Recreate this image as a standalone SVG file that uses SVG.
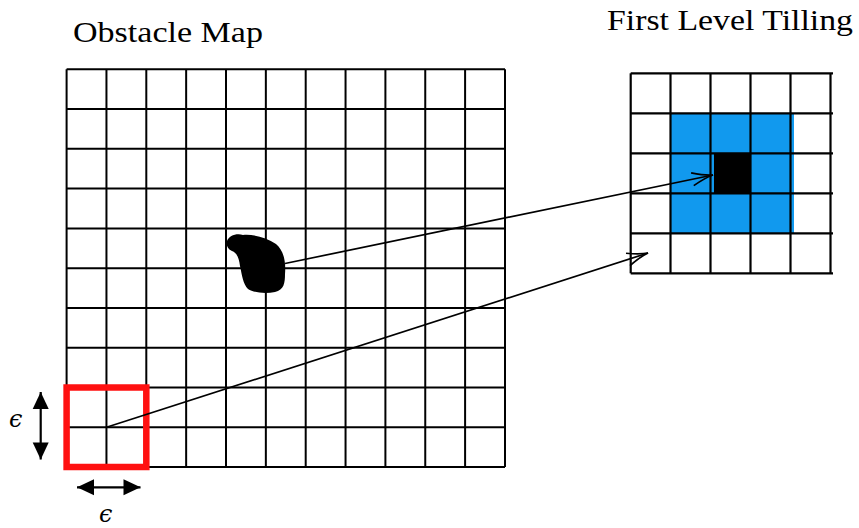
<svg xmlns="http://www.w3.org/2000/svg" width="859" height="528" viewBox="0 0 859 528">
<style>
.title{font-family:"Liberation Serif","DejaVu Serif",serif;font-size:30px;fill:#000}
.eps{font-family:"DejaVu Serif","Liberation Serif",serif;font-style:italic;font-size:24px;fill:#000}
.grid line{stroke:#000;stroke-width:2}
.grid2 line{stroke:#000;stroke-width:2.2}
.conn{stroke:#000;stroke-width:1.7;fill:none}
</style>
<defs>
<marker id="open" markerUnits="userSpaceOnUse" markerWidth="30" markerHeight="20" viewBox="-24 -10 30 20" refX="0" refY="0" orient="auto">
<path d="M -21 -6.5 Q -8 -1 0 0 Q -8 1 -21 6.5" fill="none" stroke="#000" stroke-width="1.7"/>
</marker>
<marker id="latex" markerUnits="userSpaceOnUse" markerWidth="20" markerHeight="20" viewBox="-18 -9 20 18" refX="0" refY="0" orient="auto-start-reverse">
<path d="M -17 -8 L 0 0 L -17 8 Z" fill="#000"/>
</marker>
</defs>

<text class="title" x="73" y="42" textLength="190" lengthAdjust="spacingAndGlyphs">Obstacle Map</text>
<text class="title" x="607" y="30" textLength="246" lengthAdjust="spacingAndGlyphs">First Level Tilling</text>

<g id="obstacle-map">
<g class="grid">
<line x1="66.6" y1="69.3" x2="66.6" y2="467"/>
<line x1="106.45" y1="69.3" x2="106.45" y2="467"/>
<line x1="146.3" y1="69.3" x2="146.3" y2="467"/>
<line x1="186.15" y1="69.3" x2="186.15" y2="467"/>
<line x1="226" y1="69.3" x2="226" y2="467"/>
<line x1="265.85" y1="69.3" x2="265.85" y2="467"/>
<line x1="305.7" y1="69.3" x2="305.7" y2="467"/>
<line x1="345.55" y1="69.3" x2="345.55" y2="467"/>
<line x1="385.4" y1="69.3" x2="385.4" y2="467"/>
<line x1="425.25" y1="69.3" x2="425.25" y2="467"/>
<line x1="465.1" y1="69.3" x2="465.1" y2="467"/>
<line x1="505" y1="69.3" x2="505" y2="467"/>
<line x1="66.6" y1="69.3" x2="505" y2="69.3"/>
<line x1="66.6" y1="109.1" x2="505" y2="109.1"/>
<line x1="66.6" y1="148.8" x2="505" y2="148.8"/>
<line x1="66.6" y1="188.6" x2="505" y2="188.6"/>
<line x1="66.6" y1="228.4" x2="505" y2="228.4"/>
<line x1="66.6" y1="268.2" x2="505" y2="268.2"/>
<line x1="66.6" y1="307.9" x2="505" y2="307.9"/>
<line x1="66.6" y1="347.7" x2="505" y2="347.7"/>
<line x1="66.6" y1="387.5" x2="505" y2="387.5"/>
<line x1="66.6" y1="427.2" x2="505" y2="427.2"/>
<line x1="66.6" y1="467" x2="505" y2="467"/>
</g>
</g>

<g id="obstacle">
<path d="M 227 241 C 229 236 236 233 243 235 C 252 234 266 237 276 244 C 284 251 286 262 285 274 C 285 283 284 290 275 292 C 266 294 254 293 248 289 C 243 284 242 275 240 266 C 239 258 237 253 232 251 C 228 249 226 246 227 241 Z" fill="#000"/>
</g>

<g id="epsilon-cell">
<rect x="66.6" y="387.5" width="79.7" height="79.5" fill="none" stroke="#FF1010" stroke-width="6.5"/>
</g>

<g id="epsilon-dims">
<line x1="40.7" y1="392" x2="40.7" y2="459.5" stroke="#000" stroke-width="2.2" marker-start="url(#latex)" marker-end="url(#latex)"/>
<line x1="77" y1="487.3" x2="140.5" y2="487.3" stroke="#000" stroke-width="2.2" marker-start="url(#latex)" marker-end="url(#latex)"/>
<text class="eps" x="9" y="427">ϵ</text>
<text class="eps" x="99" y="522">ϵ</text>
</g>

<g id="first-level-tiling">
<rect x="670.5" y="113.3" width="123.5" height="120.7" fill="#1199EE"/>
<rect x="714" y="153.3" width="36.5" height="40" fill="#000"/>
<g class="grid2">
<line x1="630.7" y1="73.3" x2="630.7" y2="273.3"/>
<line x1="670.5" y1="73.3" x2="670.5" y2="273.3"/>
<line x1="710.5" y1="73.3" x2="710.5" y2="273.3"/>
<line x1="750.5" y1="73.3" x2="750.5" y2="273.3"/>
<line x1="790.5" y1="73.3" x2="790.5" y2="273.3"/>
<line x1="830.5" y1="73.3" x2="830.5" y2="273.3"/>
<line x1="630.7" y1="73.3" x2="833" y2="73.3"/>
<line x1="630.7" y1="113.3" x2="833" y2="113.3"/>
<line x1="630.7" y1="153.3" x2="833" y2="153.3"/>
<line x1="630.7" y1="193.3" x2="833" y2="193.3"/>
<line x1="630.7" y1="233.3" x2="833" y2="233.3"/>
<line x1="630.7" y1="273.3" x2="833" y2="273.3"/>
</g>
</g>

<g id="connectors">
<line class="conn" x1="285" y1="263.5" x2="713" y2="175" marker-end="url(#open)"/>
<line class="conn" x1="106.5" y1="427.3" x2="648" y2="253" marker-end="url(#open)"/>
</g>
</svg>
